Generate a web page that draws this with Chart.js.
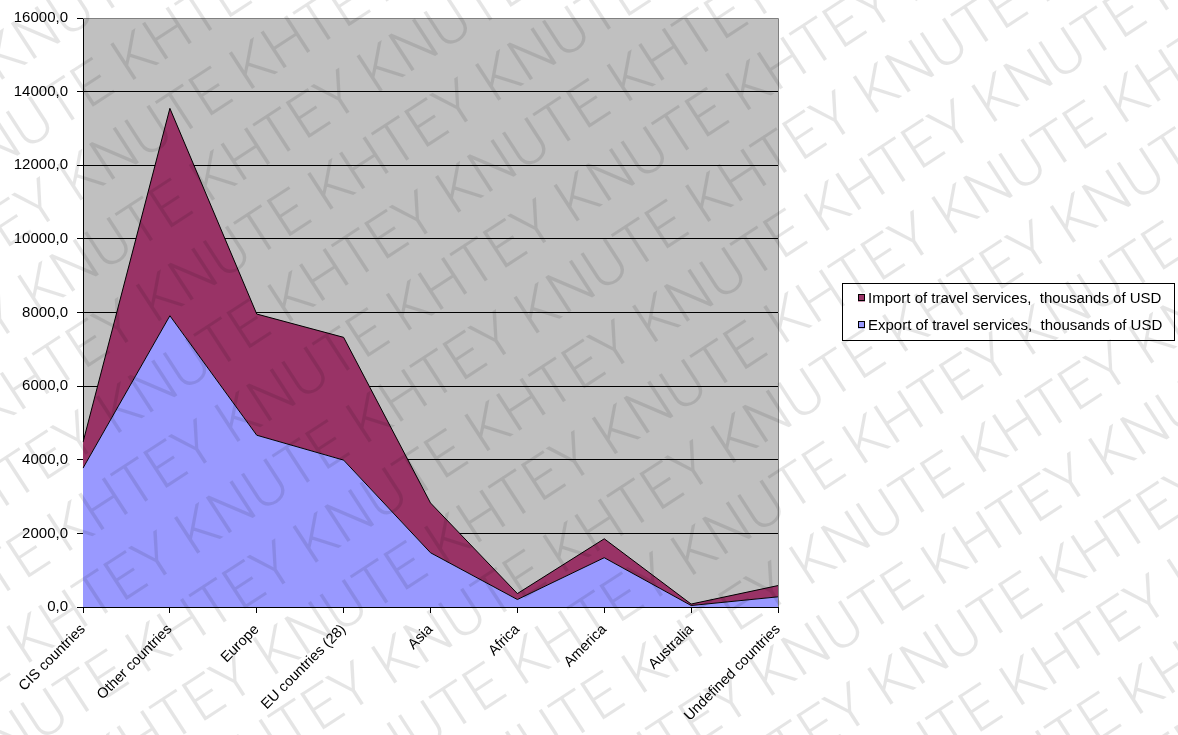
<!DOCTYPE html>
<html>
<head>
<meta charset="utf-8">
<script src="https://cdn.jsdelivr.net/npm/chart.js@4"></script>
<style>
  html, body { margin: 0; padding: 0; background: #ffffff; }
  #wrap { width: 1178px; height: 735px; position: relative; }
</style>
</head>
<body>
<div id="wrap"><canvas id="c" width="1178" height="735"></canvas></div>
<script>
// Travel services by region, thousands of USD
const regions = ['CIS countries', 'Other countries', 'Europe', 'EU countries (28)', 'Asia', 'Africa', 'America', 'Australia', 'Undefined countries'];
const exportValues = [3773, 7912, 4666, 3990, 1474, 203, 1339, 40, 276];
const importValues = [704, 5634, 3292, 3335, 1352, 162, 514, 40, 306];
const yTicks = [0, 2000, 4000, 6000, 8000, 10000, 12000, 14000, 16000];
const importLabel = 'Import of travel services,  thousands of USD';
const exportLabel = 'Export of travel services,  thousands of USD';
const watermarkWords = ['KNUTE', 'KHTEY'];

const FONT = "'Liberation Sans', Arial, sans-serif";

// grey plot background plus the thin grey frame on top/right
const plotFrame = {
  id: 'plotFrame',
  beforeDraw(chart) {
    const { ctx, chartArea: a } = chart;
    ctx.save();
    ctx.fillStyle = '#c0c0c0';
    ctx.fillRect(a.left, a.top, a.right - a.left, a.bottom - a.top);
    ctx.restore();
  },
  afterDatasetsDraw(chart) {
    const { ctx, chartArea: a } = chart;
    ctx.save();
    ctx.strokeStyle = '#808080';
    ctx.lineWidth = 1;
    ctx.beginPath();
    ctx.moveTo(a.left, a.top + 0.5);
    ctx.lineTo(a.right + 0.5, a.top + 0.5);
    ctx.lineTo(a.right + 0.5, a.bottom);
    ctx.stroke();
    ctx.restore();
  }
};

// boxed legend to the right of the plot
const sideLegend = {
  id: 'sideLegend',
  afterDraw(chart) {
    const { ctx } = chart;
    const x0 = 842, y0 = 283, w = 332, h = 57;
    ctx.save();
    ctx.fillStyle = '#ffffff';
    ctx.fillRect(x0, y0, w, h);
    ctx.strokeStyle = '#000000';
    ctx.lineWidth = 1;
    ctx.strokeRect(x0 + 0.5, y0 + 0.5, w, h);
    const items = [chart.data.datasets[1], chart.data.datasets[0]];
    ctx.font = '15px ' + FONT;
    ctx.textBaseline = 'middle';
    items.forEach((ds, i) => {
      const cy = y0 + 15 + i * 27;
      ctx.fillStyle = ds.backgroundColor;
      ctx.fillRect(858, cy - 3.5, 7, 7);
      ctx.strokeStyle = '#000000';
      ctx.strokeRect(858.5, cy - 3.5, 6, 6);
      ctx.fillStyle = '#000000';
      ctx.fillText(ds.label, 868, cy + 0.5);
    });
    ctx.restore();
  }
};

// diagonal repeated watermark across the whole picture
const watermark = {
  id: 'watermark',
  afterDraw(chart) {
    const { ctx, width, height } = chart;
    ctx.save();
    ctx.fillStyle = 'rgba(0,0,0,0.1)';
    ctx.font = '300 60px Roboto, ' + FONT;
    ctx.textBaseline = 'middle';
    ctx.translate(width / 2, height / 2);
    ctx.rotate(-33 * Math.PI / 180);
    const rowGap = 72;
    for (let r = -14; r <= 14; r++) {
      let x = -1150 + (r % 2 === 0 ? 0 : 110);
      let k = Math.abs(r) % 2;
      while (x < 1150) {
        const word = watermarkWords[k % 2];
        ctx.fillText(word, x, r * rowGap);
        x += ctx.measureText(word + ' ').width;
        k++;
      }
    }
    ctx.restore();
  }
};

new Chart(document.getElementById('c'), {
  type: 'line',
  data: {
    labels: regions,
    datasets: [
      {
        label: exportLabel,
        data: exportValues,
        backgroundColor: '#9999ff',
        borderColor: '#000000',
        borderWidth: 1,
        fill: 'origin',
        pointRadius: 0,
        tension: 0
      },
      {
        label: importLabel,
        data: importValues,
        backgroundColor: '#993366',
        borderColor: '#000000',
        borderWidth: 1,
        fill: '-1',
        pointRadius: 0,
        tension: 0
      }
    ]
  },
  options: {
    responsive: false,
    animation: false,
    layout: { padding: { left: 0, top: 16, right: 400, bottom: 0 } },
    plugins: {
      legend: { display: false },
      tooltip: { enabled: false }
    },
    scales: {
      x: {
        offset: false,
        grid: { drawOnChartArea: false, drawTicks: true, tickLength: 6, tickColor: '#000000' },
        border: { color: '#000000', width: 1 },
        ticks: {
          color: '#000000',
          font: { family: FONT, size: 14.5 },
          minRotation: 45,
          maxRotation: 45,
          autoSkip: false,
          padding: 8
        },
        afterFit(s) { s.height = 128; }
      },
      y: {
        stacked: true,
        min: yTicks[0],
        max: yTicks[yTicks.length - 1],
        afterBuildTicks(s) { s.ticks = yTicks.map(v => ({ value: v })); },
        grid: {
          color: ctx => (ctx.tick && ctx.tick.value > 0 && ctx.tick.value < 16000) ? '#000000' : 'rgba(0,0,0,0)',
          tickColor: '#000000',
          tickLength: 6,
          drawTicks: true
        },
        border: { color: '#000000', width: 1 },
        ticks: {
          color: '#000000',
          font: { family: FONT, size: 15 },
          padding: 9,
          callback: v => v.toFixed(1).replace('.', ',')
        },
        afterFit(s) { s.width = 83; }
      }
    }
  },
  plugins: [plotFrame, sideLegend, watermark]
});
</script>
</body>
</html>
